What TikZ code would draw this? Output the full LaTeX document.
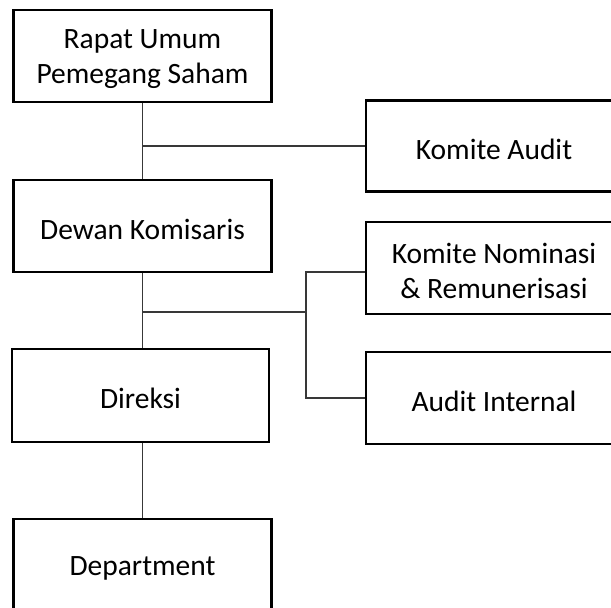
\documentclass[tikz,border=0pt]{standalone}
\usepackage{fontspec}
\setmainfont{Carlito}
% lower a line of box text a little without changing its box size
\newcommand{\lowtxt}[1]{\raisebox{-3pt}[\height][\depth]{#1}}
\begin{document}
\begin{tikzpicture}[x=1pt,y=-1pt,
  orgbox/.style={draw=black, line width=2.6pt, rectangle, align=center,
    inner sep=0pt, font=\fontsize{29.5}{35}\selectfont, text=black},
  leftbox/.style={orgbox, minimum width=258pt, minimum height=92pt},
  rightbox/.style={orgbox, minimum width=256pt, minimum height=91pt},
  link/.style={draw=black!78, line width=1.5pt}]
  \useasboundingbox (0,0) rectangle (611,608);
  \fill[white] (0,0) rectangle (611,608);
  \clip (0,0) rectangle (611,608);

  % main chain
  \node[leftbox] (rups) at (142.5,56) {\lowtxt{Rapat Umum}\\\lowtxt{Pemegang Saham}};
  \node[leftbox] (dk)   at (142.5,226) {\lowtxt{Dewan Komisaris}};
  \node[leftbox, minimum width=257pt, minimum height=93pt] (dir) at (140.5,395.5) {\lowtxt{Direksi}};
  \node[leftbox] (dept) at (142.5,565) {\lowtxt{Department}};

  % side committees
  \node[rightbox] (ka) at (494,146) {\lowtxt{Komite Audit}};
  \node[rightbox, minimum height=92pt] (kn) at (494,268) {\lowtxt{Komite Nominasi}\\\lowtxt{\& Remunerisasi}};
  \node[rightbox, minimum height=92pt] (ai) at (494,398) {\lowtxt{Audit Internal}};

  \coordinate (fork) at (306,312);

  % connectors
  \draw[link] (rups.south) -- (dk.north);
  \draw[link] (rups.south |- ka.west) -- (ka.west);
  \draw[link] (dk.south) -- (dk.south |- dir.north);
  \draw[link] (dk.south |- fork) -- (fork);
  \draw[link] (fork) |- ([yshift=-4pt]kn.west);
  \draw[link] (fork) |- (ai.west);
  \draw[link] (dk.south |- dir.south) -- (dk.south |- dept.north);
\end{tikzpicture}
\end{document}
